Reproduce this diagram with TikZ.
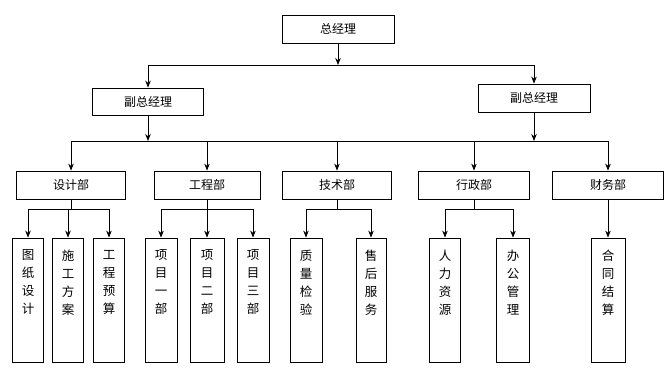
\documentclass[tikz,border=0pt]{standalone}
\usepackage{fontspec}
\setmainfont{Noto Sans CJK SC}
\usetikzlibrary{arrows.meta}

\begin{document}
\begin{tikzpicture}[x=1pt, y=-1pt,
  box/.style={draw, rectangle, line width=0.8pt, inner sep=0pt, font=\fontsize{12}{14}\selectfont},
  topbox/.style={box, minimum width=#1, minimum height=28pt},
  deptbox/.style={box, minimum width=#1, minimum height=28pt},
  subbox/.style={box, minimum width=#1, minimum height=124pt,
    execute at begin node={\begin{minipage}[c][100pt][t]{16pt}\centering\fontsize{12.5}{18}\selectfont},
    execute at end node={\end{minipage}}},
  arrow/.style={-{Stealth[length=7pt,width=5.5pt]}, line width=0.8pt},
  line/.style={line width=0.8pt}
]
\useasboundingbox (0,0) rectangle (672,376);

% Draw managers
\node[topbox=112pt] (gm) at (338,29) {总经理};
\node[topbox=111pt, minimum height=27pt] (vp1) at (148,101.5) {副总经理};
\node[topbox=112pt] (vp2) at (534,98) {副总经理};

% Draw departments
\node[deptbox=109pt] (d1) at (71,185) {设计部};
\node[deptbox=106pt] (d2) at (207,185) {工程部};
\node[deptbox=109pt] (d3) at (337,185) {技术部};
\node[deptbox=111pt] (d4) at (474,185) {行政部};
\node[deptbox=111pt] (d5) at (608,185) {财务部};

% Draw sections
\node[subbox=31pt] (s11) at (28,300) {图\\纸\\设\\计};
\node[subbox=31pt] (s12) at (68,300) {施\\工\\方\\案};
\node[subbox=31pt] (s13) at (109,300) {工\\程\\预\\算};
\node[subbox=32pt] (s21) at (161,300) {项\\目\\一\\部};
\node[subbox=34pt] (s22) at (207,300) {项\\目\\二\\部};
\node[subbox=32pt] (s23) at (253,300) {项\\目\\三\\部};
\node[subbox=32pt] (s31) at (306,300) {质\\量\\检\\验};
\node[subbox=30pt] (s32) at (371,300) {售\\后\\服\\务};
\node[subbox=31pt] (s41) at (445,300) {人\\力\\资\\源};
\node[subbox=33pt] (s42) at (513,300) {办\\公\\管\\理};
\node[subbox=34pt] (s51) at (608,300) {合\\同\\结\\算};

% Bus lines
\coordinate (b1) at (338,65);
\coordinate (b2) at (338,141);
\coordinate (b3) at (338,209);

% General manager to deputies
\draw[arrow] (gm.south) -- (b1);
\draw[line] (vp1.north |- b1) -- (vp2.north |- b1);
\draw[arrow] (vp1.north |- b1) -- (vp1.north);
\draw[arrow] (vp2.north |- b1) -- (vp2.north);

% Deputies to departments
\draw[arrow] (vp1.south) -- (vp1.south |- b2);
\draw[arrow] (vp2.south) -- (vp2.south |- b2);
\draw[line] (d1.north |- b2) -- (d5.north |- b2);
\foreach \d in {d1,d2,d3,d4,d5}
  \draw[arrow] (\d.north |- b2) -- (\d.north);

% Departments to sections
\draw[line] (d1.south) -- (d1.south |- b3);
\draw[line] (s11.north |- b3) -- (s13.north |- b3);
\foreach \s in {s11,s12,s13}
  \draw[arrow] (\s.north |- b3) -- (\s.north);
\draw[line] (d2.south) -- (d2.south |- b3);
\draw[line] (s21.north |- b3) -- (s23.north |- b3);
\foreach \s in {s21,s22,s23}
  \draw[arrow] (\s.north |- b3) -- (\s.north);
\draw[line] (d3.south) -- (d3.south |- b3);
\draw[line] (s31.north |- b3) -- (s32.north |- b3);
\foreach \s in {s31,s32}
  \draw[arrow] (\s.north |- b3) -- (\s.north);
\draw[line] (d4.south) -- (d4.south |- b3);
\draw[line] (s41.north |- b3) -- (s42.north |- b3);
\foreach \s in {s41,s42}
  \draw[arrow] (\s.north |- b3) -- (\s.north);
\draw[arrow] (d5.south) -- (s51.north);

\end{tikzpicture}
\end{document}
